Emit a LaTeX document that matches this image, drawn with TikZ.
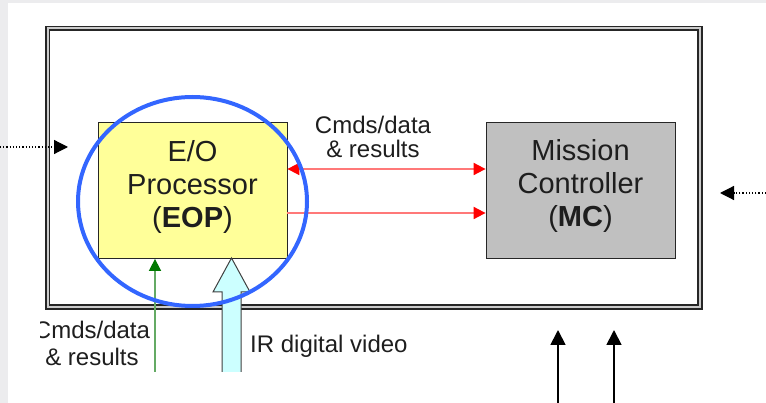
\documentclass[tikz,border=0pt]{standalone}
\usepackage{fontspec}
\setmainfont{Liberation Sans}
\usetikzlibrary{arrows.meta}
\definecolor{eopyellow}{RGB}{255,255,153}
\definecolor{mcgray}{RGB}{192,192,192}
\definecolor{ringblue}{RGB}{51,102,255}
\definecolor{videocyan}{RGB}{204,255,255}
\definecolor{txtgray}{RGB}{30,30,30}
\definecolor{stripgray}{RGB}{236,236,238}
\definecolor{linkred}{RGB}{255,120,120}
\definecolor{linkgreen}{RGB}{100,170,100}
\definecolor{headgreen}{RGB}{0,120,0}
\tikzstyle{sysframe}=[draw=black!85, line width=1.8pt, double=gray!40, double distance=2pt, inner sep=0pt, minimum width=652.5pt, minimum height=278.5pt]
\tikzstyle{unit}=[draw=black!85, thick, inner sep=0pt, minimum width=189pt, minimum height=136pt]
\tikzstyle{unittext}=[text=txtgray, inner sep=0pt, align=center, font=\fontsize{29}{33}\selectfont]
\tikzstyle{msglabel}=[text=txtgray, align=center, inner sep=0pt, font=\fontsize{24}{24}\selectfont]
\tikzstyle{cmdarrow}=[linkred, line width=1.8pt, >={Triangle[length=12pt,width=12pt,color=red]}]
\tikzstyle{grnarrow}=[linkgreen, line width=1.6pt, -{Triangle[length=12pt,width=12pt,color=headgreen]}]
\tikzstyle{feedarrow}=[black, line width=1.8pt, -{Triangle[length=15pt,width=15pt]}]
\tikzstyle{dotarrow}=[black, line width=1.2pt, dotted, -{Triangle[length=14pt,width=14pt,sep=0pt]}]

\begin{document}
\begin{tikzpicture}[x=1pt, y=-1pt]
    \useasboundingbox (0,0) rectangle (766,403);
    \fill[stripgray] (0,0) rectangle (766,3);
    \fill[stripgray] (0,0) rectangle (8,403);
    % system box and its two units
    \node[sysframe] (sys) at (373.75,167.75) {};
    \node[unit, fill=eopyellow] (eop) at (192.5,190.5) {};
    \node[unit, fill=mcgray] (mc) at (580.5,190.5) {};
    \node[unittext] (eoptext) at ([yshift=4pt]eop.center) {E/O\\Processor\\(\textbf{EOP})};
    \node[unittext] (mctext) at ([yshift=5pt]mc.center) {Mission\\Controller\\(\textbf{MC})};
    \node[msglabel] (cmdtop) at (373,136.5) {Cmds/data\\\& results};
    \draw[cmdarrow, <->] ([yshift=21.5pt]eop.east) -- ([yshift=21.5pt]mc.west);
    \draw[cmdarrow, ->]  ([yshift=-22.5pt]eop.east) -- ([yshift=-22.5pt]mc.west);
    % inputs from below
    \coordinate (grnfoot) at (155,372);
    \draw[grnarrow] (grnfoot) -- (grnfoot |- eop.south);
    \fill[videocyan] (222,372) -- (222,292) -- (213,292) -- (231.5,258) -- (250,292) -- (241,292) -- (241,372) -- cycle;
    \draw[black!75, line width=1pt] (222,372) -- (222,292) -- (213,292) -- (231.5,258) -- (250,292) -- (241,292) -- (241,372);
    \node[msglabel, anchor=west] (irvideo) at (250,346) {IR digital video};
    \begin{scope}
        \clip (40.5,300) rectangle (200,403);
        \node[msglabel, font=\fontsize{24}{27}\selectfont] (cmdbot) at (92,343) {Cmds/data\\\& results};
    \end{scope}
    \coordinate (feedA) at (558,403);
    \coordinate (feedB) at (614,403);
    \draw[feedarrow] (feedA) -- (558,330);
    \draw[feedarrow] (feedB) -- (614,330);
    % dotted links from outside
    \coordinate (leftin) at (0,147);
    \coordinate (rightin) at (766,193);
    \draw[dotarrow] (leftin) -- (68,147);
    \draw[dotarrow] (rightin) -- (720,193);
    % focus ring
    \draw[ringblue, line width=4pt] (192.5,201.5) ellipse [x radius=114.5pt, y radius=104.5pt];
\end{tikzpicture}
\end{document}
